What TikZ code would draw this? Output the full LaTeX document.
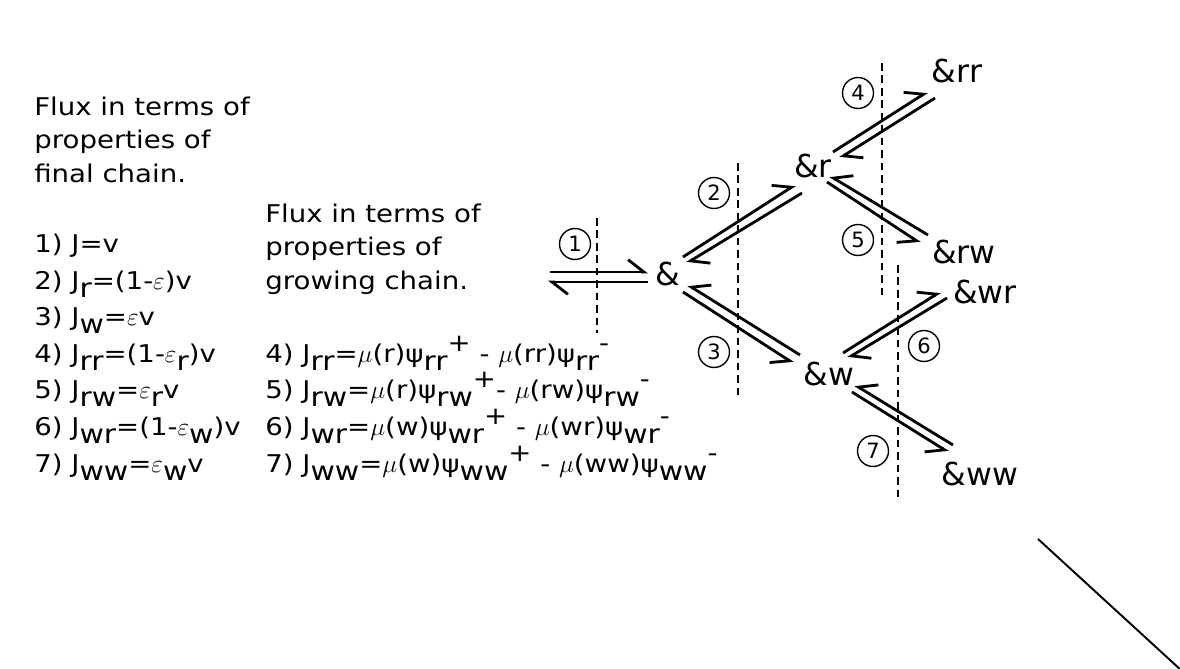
\documentclass[tikz,border=0pt]{standalone}
\usepackage{fontspec}
\usepackage{graphicx}
\setmainfont{DejaVu Sans}
\newfontfamily\bodyfont{DejaVu Sans}[FakeStretch=1.13]
\usetikzlibrary{arrows.meta}

\newcommand{\subs}[1]{\raisebox{-0.33em}{\scalebox{1.08}{#1}}}
\newcommand{\sups}[1]{\raisebox{0.45em}{#1}}

\begin{document}
\begin{tikzpicture}[
  x=0.02cm, y=-0.02cm,
  txt/.style={anchor=base west, align=left, inner sep=0pt, font=\bodyfont\fontsize{13.9}{19}\selectfont},
  lst/.style={txt, font=\bodyfont\fontsize{13.9}{20.8}\selectfont},
  chain/.style={inner sep=0pt, font=\fontsize{18}{20}\selectfont},
  num/.style={circle, draw, line width=0.8pt, minimum size=0.62cm, inner sep=0pt, font=\fontsize{12}{12}\selectfont},
  cut/.style={line width=1.1pt, dash pattern=on 4.3pt off 2.8pt},
  harpL/.style={line width=1.6pt, -{Straight Barb[left, length=9pt, width=14pt]}},
  harpR/.style={line width=1.6pt, -{Straight Barb[right, length=9pt, width=14pt]}}
]
  \useasboundingbox (0,0) rectangle (1180,669);

  % text blocks (anchored at the last baseline)
  \node[txt] (final) at (34,182) {Flux in terms of\\properties of\\final chain.};
  \node[lst] (finalJ) at (34,472) {1) J=v\\
    2) J\subs{r}=(1-$\varepsilon$)v\\
    3) J\subs{w}=$\varepsilon$v\\
    4) J\subs{rr}=(1-$\varepsilon$\subs{r})v\\
    5) J\subs{rw}=$\varepsilon$\subs{r}v\\
    6) J\subs{wr}=(1-$\varepsilon$\subs{w})v\\
    7) J\subs{ww}=$\varepsilon$\subs{w}v};
  \node[txt] (grow) at (265,289) {Flux in terms of\\properties of\\growing chain.};
  \node[lst] (growJ) at (265,472) {4) J\subs{rr}=$\mu$(r)ψ\subs{rr}\sups{+} - $\mu$(rr)ψ\subs{rr}\sups{-}\\
    5) J\subs{rw}=$\mu$(r)ψ\subs{rw}\sups{+}- $\mu$(rw)ψ\subs{rw}\sups{-}\\
    6) J\subs{wr}=$\mu$(w)ψ\subs{wr}\sups{+} - $\mu$(wr)ψ\subs{wr}\sups{-}\\
    7) J\subs{ww}=$\mu$(w)ψ\subs{ww}\sups{+} - $\mu$(ww)ψ\subs{ww}\sups{-}};

  % chains
  \node[chain] (root) at (668,274) {\&};
  \node[chain] (r) at (813,166) {\&r};
  \node[chain] (rr) at (957,71) {\&rr};
  \node[chain] (rw) at (964,252) {\&rw};
  \node[chain] (wr) at (985,292) {\&wr};
  \node[chain] (w) at (829,374) {\&w};
  \node[chain] (ww) at (980,474) {\&ww};
  \coordinate (feed) at (549,277);

  % step numbers
  \node[num] (c1) at (575,244) {1};
  \node[num] (c2) at (714,193) {2};
  \node[num] (c3) at (714,352) {3};
  \node[num] (c4) at (858,93) {4};
  \node[num] (c5) at (858,240) {5};
  \node[num] (c6) at (924,346) {6};
  \node[num] (c7) at (873,451) {7};

  % cuts
  \draw[cut] (597,218) -- (597,333);
  \draw[cut] (738,163) -- (738,395);
  \draw[cut] (882,63) -- (882,295);
  \draw[cut] (898,265) -- (898,497);

  % equilibria
  \draw[harpL] ([shift={(1,-5)}]feed) -- ([shift={(-20,-2)}]root.center);
  \draw[harpL] ([shift={(-20,8)}]root.center) -- ([shift={(-1,5)}]feed);
  \draw[harpL] ([shift={(15,-17)}]root.center) -- ([shift={(-18,19)}]r.center);
  \draw[harpL] ([shift={(-11,27)}]r.center) -- ([shift={(19,-11)}]root.center);
  \draw[harpR] ([shift={(-29,-19)}]w.center) -- ([shift={(20,11)}]root.center);
  \draw[harpR] ([shift={(15,18)}]root.center) -- ([shift={(-36,-11)}]w.center);
  \draw[harpL] ([shift={(20,-14)}]r.center) -- ([shift={(-30,21)}]rr.center);
  \draw[harpL] ([shift={(-22,27)}]rr.center) -- ([shift={(27,-8)}]r.center);
  \draw[harpR] ([shift={(-36,-17)}]rw.center) -- ([shift={(17,10)}]r.center);
  \draw[harpR] ([shift={(14,16)}]r.center) -- ([shift={(-44,-9)}]rw.center);
  \draw[harpL] ([shift={(14,-21)}]w.center) -- ([shift={(-45,0)}]wr.center);
  \draw[harpL] ([shift={(-38,6)}]wr.center) -- ([shift={(19,-16)}]w.center);
  \draw[harpR] ([shift={(-27,-29)}]ww.center) -- ([shift={(26,11)}]w.center);
  \draw[harpR] ([shift={(23,18)}]w.center) -- ([shift={(-32,-22)}]ww.center);

  % stray stroke
  \coordinate (tailA) at (1038,539);
  \coordinate (tailB) at (1182,671);
  \draw[line width=1.1pt] (tailA) -- (tailB);
\end{tikzpicture}
\end{document}
